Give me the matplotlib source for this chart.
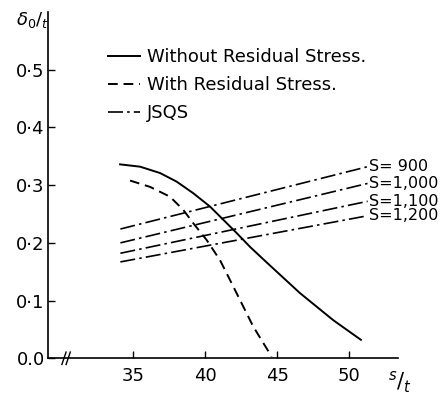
import matplotlib
matplotlib.use("Agg")
import matplotlib.pyplot as plt

# --- data ---
sol_x = [34.08, 35.47, 36.86, 38.02, 39.17, 40.33, 41.26, 42.19, 43.12, 44.28, 46.59, 48.91, 50.83]
sol_y = [0.336, 0.332, 0.321, 0.306, 0.286, 0.263, 0.240, 0.217, 0.193, 0.166, 0.113, 0.066, 0.032]

dash_x = [34.77, 36.16, 37.55, 38.48, 39.17, 40.10, 41.03, 41.96, 43.34, 44.62]
dash_y = [0.308, 0.297, 0.280, 0.257, 0.234, 0.205, 0.170, 0.124, 0.055, 0.003]

jsqs_x = [34.1, 51.3]
jsqs_lines = {
    "S= 900":  [0.224, 0.332],
    "S=1,000": [0.200, 0.303],
    "S=1,100": [0.182, 0.272],
    "S=1,200": [0.167, 0.247],
}

legend_labels = ["Without Residual Stress.", "With Residual Stress.", "JSQS"]
y_ticks = [0.0, 0.1, 0.2, 0.3, 0.4, 0.5]
y_ticklabels = ["0.0", "0·1", "0·2", "0·3", "0·4", "0·5"]
x_ticks = [35, 40, 45, 50]
x_ticklabels = ["35", "40", "45", "50"]

plt.rcParams['font.family'] = ['DejaVu Sans']

fig = plt.figure(figsize=(4.46, 3.94), dpi=100)
ax = fig.add_axes([47.5/446, 1-358.3/394, (398-47.5)/446, (358.3-12)/394])
ax.set_xlim(29.03, 53.41)
ax.set_ylim(0.0, 0.600)

l1, = ax.plot(sol_x, sol_y, color="black", lw=1.4, ls="-")
l2, = ax.plot(dash_x, dash_y, color="black", lw=1.4, ls=(0, (5, 3)))
l3 = None
for lab, ys in jsqs_lines.items():
    l3, = ax.plot(jsqs_x, ys, color="black", lw=1.2, ls=(0, (9, 2.5, 1.5, 2.5)))
    ax.text(jsqs_x[1] + 0.1, ys[1], lab, ha="left", va="center", fontsize=11.5,
            clip_on=False)

for s in ["top", "right"]:
    ax.spines[s].set_visible(False)
ax.spines["left"].set_linewidth(1.2)
ax.spines["bottom"].set_linewidth(1.2)

ax.set_yticks(y_ticks)
ax.set_yticklabels(y_ticklabels, fontsize=13)
ax.set_xticks(x_ticks)
ax.set_xticklabels(x_ticklabels, fontsize=13)
ax.tick_params(axis="both", direction="in", length=5, width=1.0)
ax.tick_params(axis="y", pad=2)
ax.tick_params(axis="x", pad=6)

# axis break mark on x-axis
for dx in (-0.006, 0.006):
    ax.plot([0.053 + dx - 0.006, 0.053 + dx + 0.006], [-0.018, 0.018],
            transform=ax.transAxes, color="black", lw=1.0, clip_on=False)

leg = ax.legend([l1, l2, l3], legend_labels, loc="upper left",
                bbox_to_anchor=(108/446, 1-48/394), bbox_transform=fig.transFigure,
                frameon=False, fontsize=13, handlelength=1.75, handletextpad=0.4,
                labelspacing=0.55, borderpad=0, borderaxespad=0)

fig.text(16/446, 1-20/394, r"$\delta_{0}/_{t}$", fontsize=13, ha="left", va="center")
fig.text(388/446, 1-382/394, r"$^{s}/_{t}$", fontsize=15, ha="left", va="center")

fig.savefig("out.png", dpi=100)
